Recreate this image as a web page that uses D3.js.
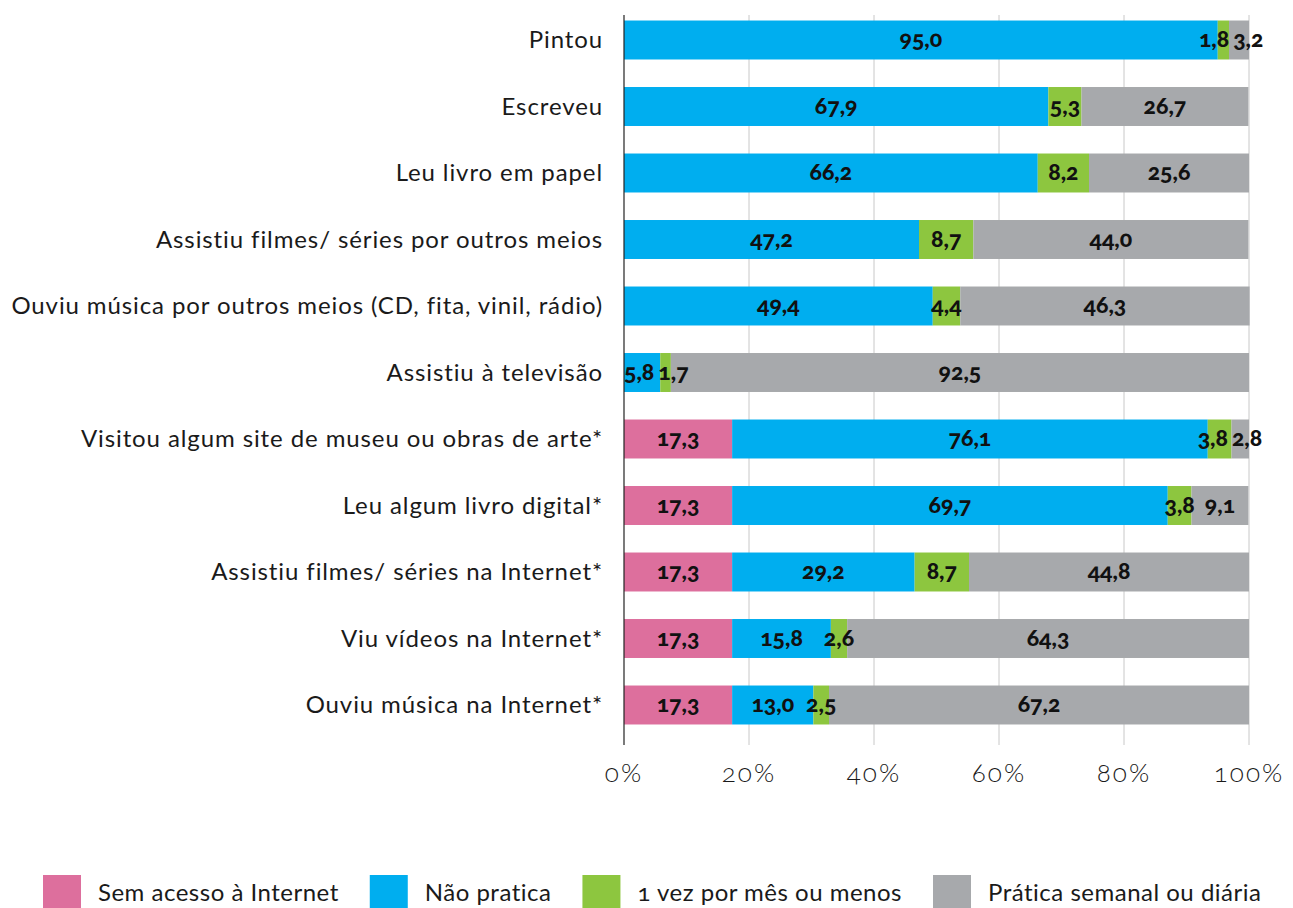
<!DOCTYPE html>
<html>
<head>
<meta charset="utf-8">
<script src="https://cdn.jsdelivr.net/npm/d3@7"></script>
<style>
  body { margin: 0; background: #fff; }
  svg { display: block; font-family: Lato, "Open Sans", sans-serif; }
  .val { font-weight: 900; font-variant-numeric: oldstyle-nums; font-feature-settings: "onum"; }
  .onum { font-variant-numeric: oldstyle-nums; font-feature-settings: "onum"; }
</style>
</head>
<body>
<div id="chart"></div>
<script>
// categories, top to bottom
var categories = [
  'Pintou',
  'Escreveu',
  'Leu livro em papel',
  'Assistiu filmes/ séries por outros meios',
  'Ouviu música por outros meios (CD, fita, vinil, rádio)',
  'Assistiu à televisão',
  'Visitou algum site de museu ou obras de arte*',
  'Leu algum livro digital*',
  'Assistiu filmes/ séries na Internet*',
  'Viu vídeos na Internet*',
  'Ouviu música na Internet*'
];
var seriesNames = ['Sem acesso à Internet', 'Não pratica', '1 vez por mês ou menos', 'Prática semanal ou diária'];
var seriesColors = ['#dd6f9d', '#00aeef', '#8dc63f', '#a7a9ac'];

// values per series (same order as categories), null = not shown
var semAcesso = [null, null, null, null, null, null, 17.3, 17.3, 17.3, 17.3, 17.3];
var naoPratica = [95.0, 67.9, 66.2, 47.2, 49.4, 5.8, 76.1, 69.7, 29.2, 15.8, 13.0];
var umaVez = [1.8, 5.3, 8.2, 8.7, 4.4, 1.7, 3.8, 3.8, 8.7, 2.6, 2.5];
var semanal = [3.2, 26.7, 25.6, 44.0, 46.3, 92.5, 2.8, 9.1, 44.8, 64.3, 67.2];
var tickValues = [0, 20, 40, 60, 80, 100];

var W = 1293, H = 908;
var svg = d3.select('#chart').append('svg').attr('width', W).attr('height', H);

var x = d3.scaleLinear().domain([0, 100]).range([624, 1249]);
var y = d3.scaleBand().domain(categories).range([6.75, 738.25]).paddingInner(0.414).paddingOuter(0.207);

// grid
svg.append('g').selectAll('line').data(tickValues.slice(1)).enter().append('line')
  .attr('x1', function(d){ return x(d); }).attr('x2', function(d){ return x(d); })
  .attr('y1', 15).attr('y2', 745)
  .attr('stroke', '#c8c8c8').attr('stroke-width', 1);

// build rows
var series = [semAcesso, naoPratica, umaVez, semanal];
var rows = categories.map(function(c, i){
  var x0 = 0, segs = [];
  series.forEach(function(s, k){
    var v = s[i];
    if (v == null) return;
    segs.push({cat: c, k: k, v: v, x0: x0, x1: x0 + v});
    x0 += v;
  });
  return segs;
});

var rowG = svg.append('g').selectAll('g').data(rows).enter().append('g');
rowG.selectAll('rect').data(function(d){ return d; }).enter().append('rect')
  .attr('x', function(d){ return x(d.x0); })
  .attr('width', function(d){ return x(d.x1) - x(d.x0); })
  .attr('y', function(d){ return y(d.cat); })
  .attr('height', y.bandwidth())
  .attr('fill', function(d){ return seriesColors[d.k]; });

// value labels, centered and then pushed apart where they collide
rowG.each(function(segs){
  var g = d3.select(this);
  var labels = segs.map(function(d){
    var t = g.append('text').attr('class', 'val')
      .attr('y', y(d.cat) + y.bandwidth() / 2)
      .attr('dy', '0.32em')
      .attr('text-anchor', 'middle')
      .attr('font-size', 23)
      .attr('fill', '#111')
      .text(d3.format('.1f')(d.v).replace('.', ','));
    return {t: t, cx: (x(d.x0) + x(d.x1)) / 2, w: t.node().getComputedTextLength()};
  });
  for (var iter = 0; iter < 20; iter++) {
    for (var j = 0; j < labels.length - 1; j++) {
      var a = labels[j], b = labels[j + 1];
      var over = (a.cx + a.w / 2 + 4) - (b.cx - b.w / 2);
      if (over > 0) { a.cx -= over / 2; b.cx += over / 2; }
    }
    if (labels[0].cx - labels[0].w / 2 < x(0)) labels[0].cx = x(0) + labels[0].w / 2;
  }
  labels.forEach(function(l){ l.t.attr('x', l.cx); });
});

// axis line
svg.append('line').attr('x1', x(0)).attr('x2', x(0)).attr('y1', 15).attr('y2', 745)
  .attr('stroke', '#222').attr('stroke-width', 1.2);

// category labels
svg.append('g').selectAll('text').data(categories).enter().append('text')
  .attr('x', 603)
  .attr('y', function(d){ return y(d) + y.bandwidth() / 2; })
  .attr('dy', '0.35em')
  .attr('text-anchor', 'end')
  .attr('font-size', 24)
  .attr('letter-spacing', 0.9)
  .attr('fill', '#1a1a1a')
  .text(function(d){ return d; });

// tick labels
svg.append('g').selectAll('text').data(tickValues).enter().append('text')
  .attr('class', 'onum')
  .attr('x', function(d){ return x(d); })
  .attr('y', 773)
  .attr('dy', '0.35em')
  .attr('text-anchor', 'middle')
  .attr('font-size', 26)
  .attr('font-weight', 300)
  .attr('letter-spacing', 2)
  .attr('fill', '#1a1a1a')
  .text(function(d){ return d + '%'; });

// legend
var lx = 43;
seriesNames.forEach(function(name, k){
  svg.append('rect').attr('x', lx).attr('y', 875).attr('width', 38).attr('height', 34)
    .attr('fill', seriesColors[k]);
  var t = svg.append('text').attr('class', 'onum')
    .attr('x', lx + 55).attr('y', 893).attr('dy', '0.35em')
    .attr('font-size', 24).attr('letter-spacing', 0.5).attr('fill', '#1a1a1a')
    .text(name);
  lx += 55 + t.node().getComputedTextLength() + 31;
});
</script>
</body>
</html>
